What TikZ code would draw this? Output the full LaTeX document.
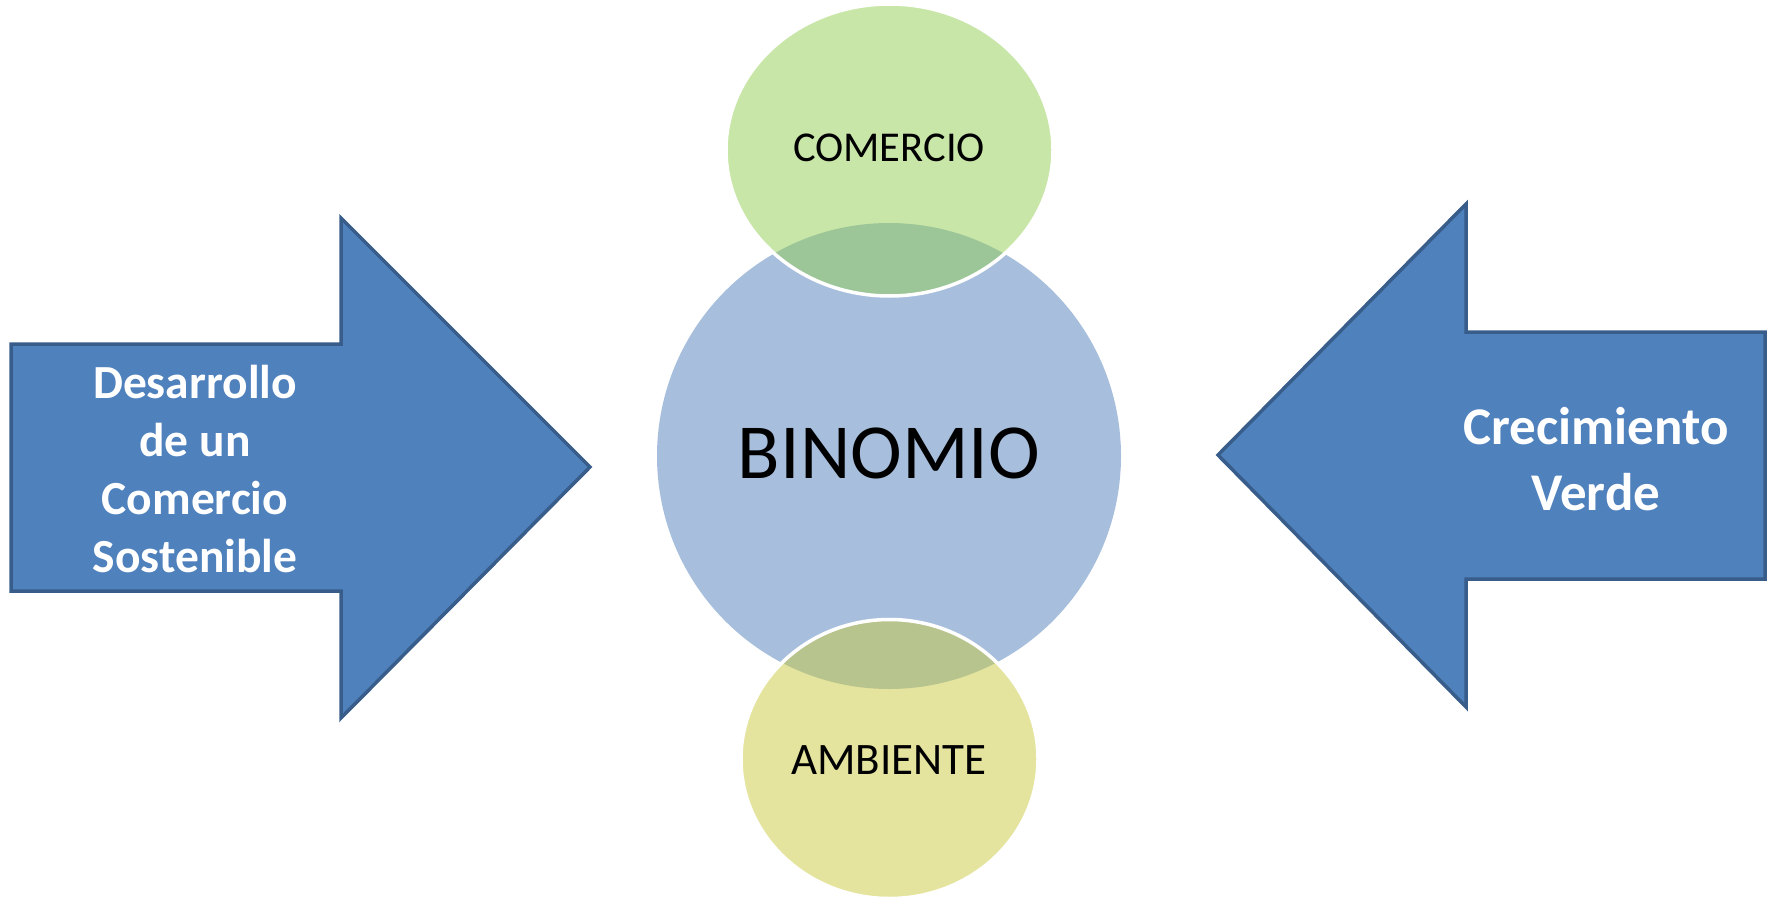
\documentclass[tikz,border=0pt]{standalone}
\usepackage{fontspec}
\setmainfont{Carlito}
\begin{document}
\begin{tikzpicture}[x=1pt,y=-1pt,
  bigarrow/.style={fill=arrowfill,draw=arrowline,line width=3.5pt,line join=miter},
  arrowtext/.style={text=white,font=\bfseries,align=center},
  bubble/.style={fill opacity=0.5,draw=white,line width=3.5pt},
  label/.style={text=black}]
\definecolor{arrowfill}{HTML}{4F81BD}
\definecolor{arrowline}{HTML}{385D8A}
\definecolor{circblue}{HTML}{A7BFDD}
\definecolor{topgreen}{HTML}{93CD53}
\definecolor{botyellow}{HTML}{C9C93F}
\useasboundingbox (0,0) rectangle (1773,899);
% central circle
\fill[circblue] (889,456) ellipse [x radius=232, y radius=233];
% top and bottom ellipses
\path[bubble,fill=topgreen] (889.5,150) ellipse [x radius=163.5, y radius=146];
\path[bubble,fill=botyellow] (889.5,759) ellipse [x radius=148.5, y radius=139.5];
% arrows
\draw[bigarrow] (11,344) -- (341,344) -- (341,218) -- (590,467) -- (341,718) -- (341,591) -- (11,591) -- cycle;
\draw[bigarrow] (1765,332) -- (1466,332) -- (1466,204) -- (1218,455) -- (1466,707) -- (1466,579) -- (1765,579) -- cycle;
% texts
\node[label,font=\fontsize{78}{90}\selectfont] (binomio) at (889,453) {BINOMIO};
\node[label,font=\fontsize{42.5}{50}\selectfont] (comercio) at (889,148) {COMERCIO};
\node[label,font=\fontsize{45}{50}\selectfont] (ambiente) at (889,760) {AMBIENTE};
\node[arrowtext,font=\fontsize{47.5}{58}\selectfont\bfseries] (desarrollo) at (195,469) {Desarrollo\\de un\\Comercio\\Sostenible};
\node[arrowtext,font=\fontsize{53}{66}\selectfont\bfseries] (crecimiento) at (1596,459) {Crecimiento\\Verde};
\end{tikzpicture}
\end{document}
